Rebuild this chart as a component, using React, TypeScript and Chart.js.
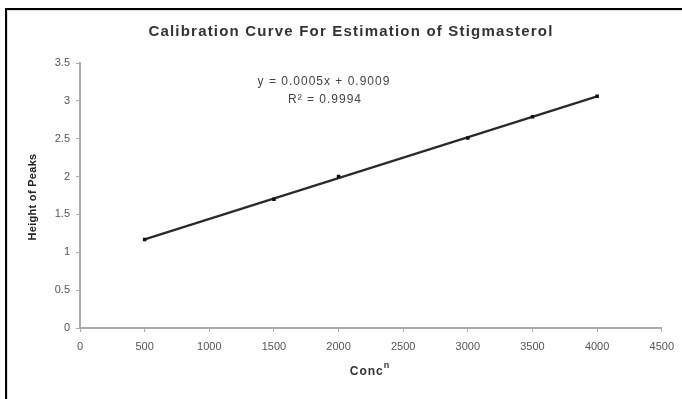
import React, { useEffect, useRef } from "react";
import { Chart, registerables } from "chart.js";

Chart.register(...registerables);

const chartTitle = "Calibration Curve For Estimation of Stigmasterol";
const xAxisTitle = "Conc";
const xAxisTitleSup = "n";
const yAxisTitle = "Height of Peaks";
const equationLines = ["y = 0.0005x + 0.9009", "R² = 0.9994"];

const concentrations = [500, 1500, 2000, 3000, 3500, 4000];
const peakHeights = [1.17, 1.7, 2.0, 2.51, 2.79, 3.06];

const xTickValues = [0, 500, 1000, 1500, 2000, 2500, 3000, 3500, 4000, 4500];
const yTickValues = [0, 0.5, 1, 1.5, 2, 2.5, 3, 3.5];

function linearFit(xs: number[], ys: number[]) {
  const n = xs.length;
  const mx = xs.reduce((a, b) => a + b, 0) / n;
  const my = ys.reduce((a, b) => a + b, 0) / n;
  let sxy = 0;
  let sxx = 0;
  for (let i = 0; i < n; i++) {
    sxy += (xs[i] - mx) * (ys[i] - my);
    sxx += (xs[i] - mx) * (xs[i] - mx);
  }
  const m = sxy / sxx;
  return { m, b: my - m * mx };
}

const FONT = "'Liberation Sans', Arial, sans-serif";

export default function App() {
  const ref = useRef<HTMLCanvasElement | null>(null);

  useEffect(() => {
    if (!ref.current) return;
    const fit = linearFit(concentrations, peakHeights);
    const xMin = concentrations[0];
    const xMax = concentrations[concentrations.length - 1];
    const trend = [
      { x: xMin, y: fit.m * xMin + fit.b },
      { x: xMax, y: fit.m * xMax + fit.b },
    ];

    const textPlugin = {
      id: "texts",
      afterDraw(chart: any) {
        const ctx = chart.ctx as any;
        ctx.save();
        // frame
        ctx.fillStyle = "#000";
        ctx.fillRect(5, 8, 682, 2);
        ctx.fillRect(5, 8, 2, 399);
        ctx.fillStyle = "#ddd";
        ctx.fillRect(7, 10, 675, 1);
        ctx.fillRect(7, 10, 1, 389);

        ctx.textAlign = "center";
        ctx.textBaseline = "middle";
        ctx.fillStyle = "#333";
        ctx.font = `bold 15px ${FONT}`;
        ctx.letterSpacing = "1.2px";
        ctx.fillText(chartTitle, 351, 32);

        ctx.fillStyle = "#444";
        ctx.font = `12px ${FONT}`;
        ctx.letterSpacing = "1px";
        ctx.fillText(equationLines[0], 324, 82);
        ctx.fillText(equationLines[1], 325, 100);

        // x title
        ctx.fillStyle = "#333";
        ctx.letterSpacing = "1px";
        ctx.font = `bold 12px ${FONT}`;
        const w = ctx.measureText(xAxisTitle).width;
        ctx.font = `bold 9px ${FONT}`;
        const ws = ctx.measureText(xAxisTitleSup).width;
        const startX = 370 - (w + ws) / 2;
        ctx.textAlign = "left";
        ctx.font = `bold 12px ${FONT}`;
        ctx.fillText(xAxisTitle, startX, 372);
        ctx.font = `bold 9px ${FONT}`;
        ctx.fillText(xAxisTitleSup, startX + w, 366);

        // y title
        ctx.textAlign = "center";
        ctx.font = `bold 11px ${FONT}`;
        ctx.letterSpacing = "0.3px";
        ctx.fillStyle = "#222";
        ctx.translate(33, 197);
        ctx.rotate(-Math.PI / 2);
        ctx.fillText(yAxisTitle, 0, 0);
        ctx.restore();
      },
    };

    const chart = new Chart(ref.current, {
      type: "scatter",
      data: {
        datasets: [
          {
            label: "Trend",
            data: trend,
            showLine: true,
            borderColor: "#2a2a2a",
            borderWidth: 2.2,
            pointRadius: 0,
            order: 2,
          },
          {
            label: "Data",
            data: concentrations.map((x, i) => ({ x, y: peakHeights[i] })),
            showLine: false,
            pointStyle: "rect",
            pointRadius: 2.5,
            backgroundColor: "#111",
            borderColor: "#111",
            borderWidth: 0,
            order: 1,
          },
        ],
      },
      options: {
        responsive: false,
        animation: false,
        layout: { padding: { left: 0, right: 20, top: 63, bottom: 0 } },
        plugins: {
          legend: { display: false },
          title: { display: false },
          tooltip: { enabled: false },
        },
        scales: {
          x: {
            type: "linear",
            min: 0,
            max: 4500,
            afterFit(scale: any) {
              scale.height = 71;
            },
            afterBuildTicks(scale: any) {
              scale.ticks = xTickValues.map((v) => ({ value: v }));
            },
            border: { color: "#aaa", width: 2 },
            grid: {
              drawOnChartArea: false,
              drawTicks: true,
              tickLength: 4,
              color: "#aaa",
            },
            ticks: {
              autoSkip: false,
              maxRotation: 0,
              padding: 8,
              color: "#555",
              font: { family: FONT, size: 11 },
              callback: (v: any) => String(v),
            },
          },
          y: {
            type: "linear",
            min: 0,
            max: 3.5,
            afterFit(scale: any) {
              scale.width = 80;
            },
            afterBuildTicks(scale: any) {
              scale.ticks = yTickValues.map((v) => ({ value: v }));
            },
            border: { color: "#aaa", width: 2 },
            grid: {
              drawOnChartArea: false,
              drawTicks: true,
              tickLength: 4,
              color: "#aaa",
            },
            ticks: {
              padding: 6,
              color: "#555",
              font: { family: FONT, size: 11 },
              callback: (v: any) => String(v),
            },
          },
        },
      },
      plugins: [textPlugin],
    });
    return () => chart.destroy();
  }, []);

  return (
    <div
      style={{
        position: "absolute",
        left: 0,
        top: 0,
        width: 682,
        height: 399,
        background: "#fff",
      }}
    >
      <canvas ref={ref} width={682} height={399} />
    </div>
  );
}
